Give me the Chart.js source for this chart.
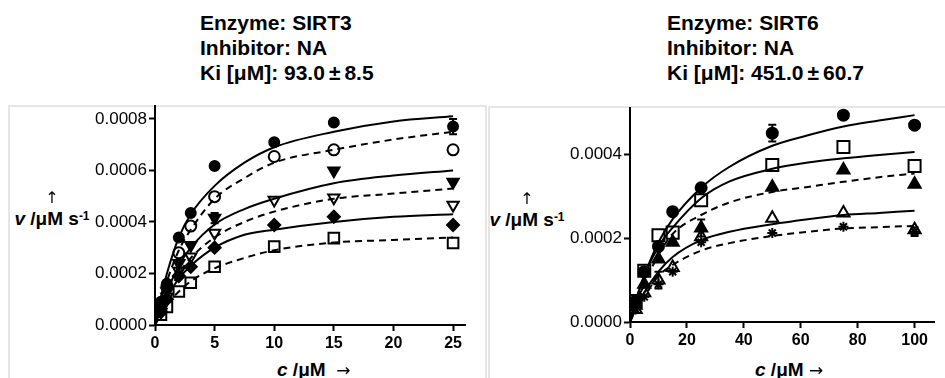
<!DOCTYPE html>
<html>
<head>
<meta charset="utf-8">
<script src="https://cdn.jsdelivr.net/npm/chart.js@4.4.1/dist/chart.umd.min.js"></script>
<style>
    body { margin: 0; width: 945px; height: 378px; overflow: hidden; background: #fff; position: relative;
           font-family: "Liberation Sans", Arial, sans-serif; color: #000; }
    canvas.chart { position: absolute; left: 0; top: 0; }
    .frame { position: absolute; border: 2px solid #e6e6e6; border-bottom: none; height: 300px; }
    .title { position: absolute; font-weight: bold; font-size: 21px; line-height: 25px; white-space: nowrap; }
    .pm { margin: 0 4px; }
    .ylab { position: absolute; width: 110px; text-align: center; font-weight: bold; font-size: 19px;
            line-height: 21px; white-space: nowrap; }
    .arr { font-family: "DejaVu Sans", sans-serif; font-weight: normal; color: #000;
           display: inline-block; transform: translateZ(0); opacity: 0.99; }
    .ylab .arr { font-size: 16px; }
    .ylab sup { font-size: 12px; position: relative; top: -2px; vertical-align: top; }
    .xlab { position: absolute; font-weight: bold; font-size: 19px; line-height: 22px; white-space: nowrap; }
    .xlab .arr { font-size: 17px; }
</style>
</head>
<body>
<div class="frame" style="left:8px; top:105px; width:475px;"></div>
<div class="frame" style="left:488px; top:106px; width:470px;"></div>

<div class="title" style="left:200px; top:10px;">Enzyme: SIRT3<br>Inhibitor: NA<br>Ki [μM]: 93.0<span class="pm">±</span>8.5</div>
<div class="title" style="left:667px; top:10px;">Enzyme: SIRT6<br>Inhibitor: NA<br>Ki [μM]: 451.0<span class="pm">±</span>60.7</div>

<div class="ylab" style="left:-3px; top:186px;"><span class="arr">↑</span><br><i>v</i> /μM s<sup>-1</sup></div>
<div class="ylab" style="left:472px; top:187px;"><span class="arr">↑</span><br><i>v</i> /μM s<sup>-1</sup></div>

<div class="xlab" style="left:277px; top:359px;"><i>c</i> /μM&nbsp;&nbsp;<span class="arr">→</span></div>
<div class="xlab" style="left:755px; top:359px;"><i>c</i> /μM <span class="arr">→</span></div>

<canvas id="sirt3" class="chart" width="945" height="378"></canvas>
<canvas id="sirt6" class="chart" width="945" height="378"></canvas>

<script>
// ---- SIRT3 panel ----
var conc3 = [0.5, 1, 2, 3, 5, 10, 15, 25];
var s3Circle = [0.00009, 0.00016, 0.00034, 0.000435, 0.000617, 0.000709, 0.000786, 0.00077];
var s3OpenCircle = [0.00008, 0.00015, 0.00028, 0.000384, 0.000498, 0.000654, 0.00068, 0.00068];
var s3TriDown = [0.00006, 0.00013, 0.00024, 0.00031, 0.000415, null, 0.000599, 0.000555];
var s3OpenTriDown = [0.00005, 0.00011, 0.00021, 0.000265, 0.000357, 0.000485, 0.000494, 0.000466];
var s3Diamond = [0.00005, 0.0001, 0.00019, 0.000226, 0.0003, 0.000388, 0.00042, 0.000388];
var s3OpenSquare = [0.00004, 0.00007, 0.00013, 0.000164, 0.000226, 0.000304, 0.000337, 0.000318];

var fitX3 = [0, 0.5, 1, 2, 3, 5, 7.5, 10, 15, 20, 25];
var fit3Circle = [0, 0.00011, 0.0002, 0.00034, 0.00043, 0.00054, 0.00063, 0.00069, 0.00075, 0.00079, 0.00081];
var fit3OpenCircle = [0, 0.00009, 0.00017, 0.00029, 0.00037, 0.00049, 0.00057, 0.00063, 0.00068, 0.00072, 0.00075];
var fit3TriDown = [0, 0.00007, 0.00013, 0.00023, 0.0003, 0.00039, 0.00045, 0.00049, 0.00055, 0.00058, 0.0006];
var fit3OpenTriDown = [0, 0.00006, 0.00011, 0.0002, 0.00026, 0.00034, 0.0004, 0.00044, 0.00049, 0.00051, 0.00053];
var fit3Diamond = [0, 0.00006, 0.00011, 0.00018, 0.00023, 0.0003, 0.00035, 0.00037, 0.0004, 0.00042, 0.00043];
var fit3OpenSquare = [0, 0.00004, 0.00008, 0.00013, 0.00017, 0.00022, 0.00026, 0.00029, 0.00032, 0.00033, 0.00034];

var xTicks3 = [0, 5, 10, 15, 20, 25];
var yTicks3 = [0, 0.0002, 0.0004, 0.0006, 0.0008];
var errBars3 = [[25, 0.00077, 0.00003], [5, 0.000415, 0.00002]]; // x, y, +/-

// ---- SIRT6 panel ----
var conc6 = [2, 5, 10, 15, 25, 50, 75, 100];
var s6Circle = [0.00005, 0.00012, 0.00018, 0.000263, 0.00032, 0.00045, 0.000493, 0.000469];
var s6OpenSquare = [0.00005, 0.000122, 0.000207, 0.000213, 0.00029, 0.000374, 0.000417, 0.000372];
var s6Tri = [0.00004, 0.00009, 0.00015, 0.00019, 0.000224, 0.000321, 0.000362, 0.000328];
var s6OpenTri = [0.00003, 0.00007, 0.0001, 0.00013, 0.000203, 0.000247, 0.00026, 0.00022];
var s6Star = [0.00003, 0.00006, 0.00009, 0.00012, 0.00019, 0.000212, 0.000227, 0.000215];

var fitX6 = [0, 2, 5, 10, 15, 25, 35, 50, 62.5, 75, 87.5, 100];
var fit6Circle = [0, 0.00005, 0.00011, 0.00019, 0.000245, 0.00032, 0.00037, 0.00042, 0.000445, 0.000466, 0.00048, 0.000493];
var fit6OpenSquare = [0, 0.00005, 0.00011, 0.00018, 0.000225, 0.000295, 0.000335, 0.000365, 0.00038, 0.00039, 0.000398, 0.000405];
var fit6Tri = [0, 0.00004, 0.00009, 0.00016, 0.00021, 0.000255, 0.000285, 0.00031, 0.000322, 0.000334, 0.000345, 0.000354];
var fit6OpenTri = [0, 0.00003, 0.00007, 0.00012, 0.000155, 0.000195, 0.000215, 0.000233, 0.000245, 0.000255, 0.00026, 0.000265];
var fit6Star = [0, 0.00003, 0.00006, 0.00011, 0.000136, 0.00017, 0.000188, 0.000205, 0.000215, 0.000223, 0.000226, 0.000229];

var xTicks6 = [0, 20, 40, 60, 80, 100];
var yTicks6 = [0, 0.0002, 0.0004];
var errBars6 = [[50, 0.00045, 0.00002], [25, 0.000224, 0.00002], [100, 0.000215, 0.00001], [10, 0.0001, 0.00002]];

var FONT = "'Liberation Sans', Arial, sans-serif";

function pts(xs, ys) {
    return xs.map(function (x, i) { return { x: x, y: ys[i] }; });
}

function marker(xs, ys, style, filled, r, rot) {
    return {
        data: pts(xs, ys),
        pointStyle: style,
        pointRadius: r,
        pointRotation: rot || 0,
        pointBackgroundColor: filled ? "#000" : "rgba(0,0,0,0)",
        pointBorderColor: "#000",
        pointBorderWidth: 2,
        showLine: false,
        order: 1,
    };
}

function curve(xs, ys, dashed) {
    return {
        data: pts(xs, ys),
        showLine: true,
        borderColor: "#000",
        borderWidth: 2,
        borderDash: dashed ? [7, 5] : [],
        pointRadius: 0,
        cubicInterpolationMode: "monotone",
        fill: false,
        order: 2,
    };
}

// small error bars, drawn on top of the markers
var errBarPlugin = {
    id: "errBars",
    afterDatasetsDraw: function (chart, args, opts) {
        var ctx = chart.ctx, xs = chart.scales.x, ys = chart.scales.y;
        ctx.save();
        ctx.strokeStyle = "#000";
        ctx.lineWidth = 2;
        (opts.bars || []).forEach(function (b) {
            var px = xs.getPixelForValue(b[0]);
            var top = ys.getPixelForValue(b[1] + b[2]);
            var bot = ys.getPixelForValue(b[1] - b[2]);
            ctx.beginPath();
            ctx.moveTo(px, top); ctx.lineTo(px, bot);
            ctx.moveTo(px - 4, top); ctx.lineTo(px + 4, top);
            ctx.moveTo(px - 4, bot); ctx.lineTo(px + 4, bot);
            ctx.stroke();
        });
        ctx.restore();
    },
};

function axes(xMax, yMax, xTicks, yTicks) {
    return {
        x: {
            type: "linear", min: 0, max: xMax,
            afterBuildTicks: function (s) { s.ticks = xTicks.map(function (v) { return { value: v }; }); },
            afterFit: function (s) { s.height = 40; },
            ticks: { color: "#000", padding: 3, maxRotation: 0, font: { family: FONT, size: 16, weight: "bold" } },
            grid: { drawOnChartArea: false, tickLength: 6, tickWidth: 2, tickColor: "#000" },
            border: { color: "#000", width: 2 },
        },
        y: {
            type: "linear", min: 0, max: yMax,
            afterBuildTicks: function (s) { s.ticks = yTicks.map(function (v) { return { value: v }; }); },
            afterFit: function (s) { s.width = 100; },
            ticks: {
                color: "#000", padding: 2, font: { family: FONT, size: 17 },
                callback: function (v) { return v.toFixed(4); },
            },
            grid: { drawOnChartArea: false, tickLength: 6, tickWidth: 2, tickColor: "#000" },
            border: { color: "#000", width: 2 },
        },
    };
}

new Chart(document.getElementById("sirt3"), {
    type: "scatter",
    data: {
        datasets: [
            marker(conc3, s3Circle, "circle", true, 5),
            marker(conc3, s3OpenCircle, "circle", false, 5.5),
            marker(conc3, s3TriDown, "triangle", true, 6.5, 180),
            marker(conc3, s3OpenTriDown, "triangle", false, 6.5, 180),
            marker(conc3, s3Diamond, "rectRot", true, 6),
            marker(conc3, s3OpenSquare, "rect", false, 7.5),
            curve(fitX3, fit3Circle, false),
            curve(fitX3, fit3OpenCircle, true),
            curve(fitX3, fit3TriDown, false),
            curve(fitX3, fit3OpenTriDown, true),
            curve(fitX3, fit3Diamond, false),
            curve(fitX3, fit3OpenSquare, true),
        ],
    },
    options: {
        responsive: false,
        animation: false,
        layout: { padding: { left: 55, right: 480, top: 106, bottom: 13 } },
        scales: axes(26, 0.00085, xTicks3, yTicks3),
        plugins: { legend: { display: false }, tooltip: { enabled: false }, errBars: { bars: errBars3 } },
    },
    plugins: [errBarPlugin],
});

new Chart(document.getElementById("sirt6"), {
    type: "scatter",
    data: {
        datasets: [
            marker(conc6, s6Circle, "circle", true, 5.5),
            marker(conc6, s6OpenSquare, "rect", false, 8.5),
            marker(conc6, s6Tri, "triangle", true, 7),
            marker(conc6, s6OpenTri, "triangle", false, 7),
            marker(conc6, s6Star, "star", false, 5),
            curve(fitX6, fit6Circle, false),
            curve(fitX6, fit6OpenSquare, false),
            curve(fitX6, fit6Tri, true),
            curve(fitX6, fit6OpenTri, false),
            curve(fitX6, fit6Star, true),
        ],
    },
    options: {
        responsive: false,
        animation: false,
        layout: { padding: { left: 530, right: 0, top: 108, bottom: 16 } },
        scales: axes(107, 0.00051, xTicks6, yTicks6),
        plugins: { legend: { display: false }, tooltip: { enabled: false }, errBars: { bars: errBars6 } },
    },
    plugins: [errBarPlugin],
});
</script>
</body>
</html>
